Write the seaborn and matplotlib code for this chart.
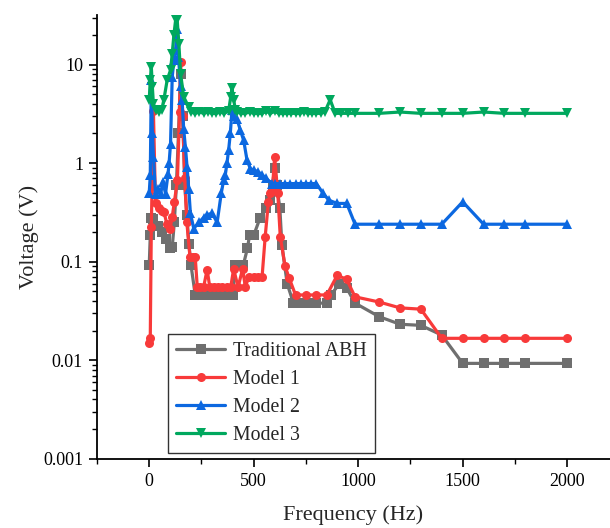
import numpy as np
import pandas as pd
import matplotlib
matplotlib.use("Agg")
import matplotlib.pyplot as plt
import matplotlib.ticker as mticker
import seaborn as sns

series_names = ["Traditional ABH", "Model 1", "Model 2", "Model 3"]

abh_f = [0, 5, 10, 20, 40, 60, 80, 100, 110, 120, 130, 140, 150, 160, 170, 180, 190, 200,
         220, 240, 260, 280, 300, 320, 340, 360, 380, 400, 410, 430, 450, 470, 480, 500, 530,
         560, 580, 590, 600, 610, 625, 635, 660, 690, 720, 760, 800, 850, 870, 910, 945, 985,
         1100, 1200, 1300, 1400, 1500, 1600, 1700, 1800, 2000]
abh_v = [0.092, 0.185, 0.28, 0.27, 0.23, 0.2, 0.17, 0.137, 0.14, 0.25, 0.6, 2.0, 8.0, 3.0, 0.6, 0.3, 0.15, 0.092,
         0.046, 0.046, 0.046, 0.046, 0.046, 0.046, 0.046, 0.046, 0.046, 0.046, 0.092, 0.092, 0.092, 0.137, 0.185, 0.185, 0.277,
         0.35, 0.42, 0.6, 0.89, 0.6, 0.35, 0.147, 0.06, 0.038, 0.038, 0.038, 0.038, 0.038, 0.046, 0.06, 0.054, 0.038,
         0.0277, 0.0232, 0.0226, 0.018, 0.0093, 0.0093, 0.0093, 0.0093, 0.0093]

m1_f = [0, 5, 10, 20, 30, 45, 60, 70, 85, 100, 110, 120, 135, 145, 150, 160, 170, 180, 195, 210, 220,
        230, 245, 260, 277, 290, 310, 330, 350, 370, 390, 404, 425, 447, 460, 476, 500, 520, 540, 555,
        570, 580, 590, 600, 615, 627, 650, 670, 700, 750, 800, 850, 900, 945, 985, 1100, 1200, 1300,
        1400, 1500, 1600, 1700, 1800, 2000]
m1_v = [0.015, 0.017, 0.225, 3.4, 0.39, 0.35, 0.33, 0.32, 0.24, 0.217, 0.285, 0.4, 0.67, 3.3, 10.7, 3.0, 0.7, 0.25, 0.112, 0.112, 0.112,
        0.055, 0.055, 0.055, 0.083, 0.055, 0.055, 0.055, 0.055, 0.055, 0.055, 0.085, 0.055, 0.085, 0.055, 0.07, 0.07, 0.07, 0.07, 0.18,
        0.4, 0.5, 0.56, 1.16, 0.5, 0.18, 0.09, 0.068, 0.046, 0.046, 0.046, 0.046, 0.073, 0.066, 0.044, 0.039, 0.034, 0.033,
        0.0167, 0.0167, 0.0167, 0.0167, 0.0167, 0.0167]

m2_f = [0, 5, 10, 15, 20, 30, 40, 55, 65, 78, 90, 95, 102, 110, 118, 126, 134, 140, 150, 157, 165,
        173, 181, 189, 197, 213, 237, 260, 277, 301, 325, 345, 356, 364, 372, 380, 388, 396, 404, 420,
        436, 452, 468, 484, 500, 520, 540, 560, 587, 600, 625, 650, 675, 700, 725, 750, 775, 800, 830,
        860, 900, 945, 985, 1100, 1200, 1300, 1400, 1500, 1600, 1700, 1800, 2000]
m2_v = [0.5, 0.75, 7.0, 2.0, 1.16, 0.49, 0.55, 0.49, 0.65, 0.49, 0.78, 1.0, 1.58, 7.5, 11.1, 14.0, 23.0, 12.0, 6.0, 4.4, 2.2,
        1.46, 0.92, 0.55, 0.31, 0.217, 0.25, 0.28, 0.3, 0.31, 0.25, 0.5, 0.67, 0.76, 1.0, 1.36, 2.0, 3.45, 3.0, 2.8,
        2.16, 1.7, 1.07, 0.88, 0.85, 0.82, 0.76, 0.7, 0.62, 0.62, 0.62, 0.62, 0.62, 0.62, 0.62, 0.62, 0.62, 0.62, 0.5,
        0.42, 0.39, 0.39, 0.24, 0.24, 0.24, 0.24, 0.24, 0.405, 0.24, 0.24, 0.24, 0.24]

m3_f = [0, 5, 10, 15, 20, 30, 45, 60, 70, 86, 102, 110, 118, 126, 134, 142, 150, 165, 189, 200,
        220, 240, 260, 280, 300, 320, 340, 360, 380, 390, 396, 404, 412, 420, 440, 460, 480, 500,
        520, 540, 560, 580, 600, 620, 640, 660, 680, 700, 720, 740, 760, 780, 800, 820, 840, 866,
        890, 920, 950, 985, 1100, 1200, 1300, 1400, 1500, 1600, 1700, 1800, 2000]
m3_v = [4.4, 7.0, 9.5, 5.9, 4.0, 3.45, 3.3, 3.5, 4.4, 7.0, 8.8, 12.9, 20.0, 28.0, 28.0, 16.0, 8.1, 4.7, 3.7, 3.3,
        3.2, 3.3, 3.2, 3.3, 3.2, 3.2, 3.3, 3.2, 3.4, 4.7, 5.8, 4.4, 3.5, 3.3, 3.2, 3.2, 3.3, 3.2,
        3.2, 3.2, 3.35, 3.2, 3.35, 3.2, 3.2, 3.2, 3.2, 3.2, 3.2, 3.3, 3.2, 3.2, 3.2, 3.2, 3.3, 4.4,
        3.2, 3.2, 3.2, 3.2, 3.2, 3.3, 3.2, 3.2, 3.2, 3.3, 3.2, 3.2, 3.2]

colors = ["#6f6f6f", "#f83a3a", "#0c68e0", "#00a85e"]
markers = ["s", "o", "^", "v"]

frames = []
for name, f, v in zip(series_names, [abh_f, m1_f, m2_f, m3_f], [abh_v, m1_v, m2_v, m3_v]):
    frames.append(pd.DataFrame({"Frequency": f, "Voltage": v, "Series": name}))
df = pd.concat(frames, ignore_index=True)

sns.set_theme(style="ticks")
plt.rcParams["font.family"] = ["Liberation Serif", "DejaVu Serif"]
plt.rcParams["mathtext.fontset"] = "stix"

fig = plt.figure(figsize=(6.10, 5.28), dpi=100)
ax = fig.add_axes([0.159, 0.131, 0.841, 0.841])

sns.lineplot(data=df, x="Frequency", y="Voltage", hue="Series", style="Series",
             hue_order=series_names, style_order=series_names,
             palette=dict(zip(series_names, colors)),
             markers=dict(zip(series_names, markers)),
             dashes=False, sort=False, estimator=None, linewidth=2.3,
             markersize=6.5, markeredgewidth=0, ax=ax)

ax.set_yscale("log")
ax.set_xlim(-250, 2205)
ax.set_ylim(0.001, 32)

ax.xaxis.set_major_locator(mticker.MultipleLocator(500))
ax.xaxis.set_minor_locator(mticker.MultipleLocator(250))
ax.yaxis.set_major_locator(mticker.FixedLocator([0.001, 0.01, 0.1, 1, 10]))
ax.yaxis.set_major_formatter(mticker.FixedFormatter(["0.001", "0.01", "0.1", "1", "10"]))
ax.yaxis.set_minor_locator(mticker.LogLocator(base=10, subs=np.arange(2, 10)))
ax.yaxis.set_minor_formatter(mticker.NullFormatter())

ax.tick_params(axis="both", which="major", direction="out", length=6, width=1.2,
               labelsize=13, color="black", labelcolor="black", pad=4)
ax.tick_params(axis="both", which="minor", direction="out", length=3.5, width=1.0, color="black")

for s in ["top", "right"]:
    ax.spines[s].set_visible(False)
for s in ["left", "bottom"]:
    ax.spines[s].set_linewidth(1.3)
    ax.spines[s].set_color("black")

ax.set_xlabel("Frequency (Hz)", fontsize=16, labelpad=11)
ax.set_ylabel("Voltage (V)", fontsize=16, labelpad=3)

handles, labels = ax.get_legend_handles_labels()
leg = ax.legend(handles, labels, loc="lower left", bbox_to_anchor=(0.138, 0.013),
                fontsize=14.3, frameon=True, fancybox=False, edgecolor="black",
                handlelength=2.5, handletextpad=0.4, borderpad=0.4, labelspacing=0.45,
                borderaxespad=0)
leg.get_frame().set_linewidth(1.0)

fig.savefig("out.png", dpi=100)
